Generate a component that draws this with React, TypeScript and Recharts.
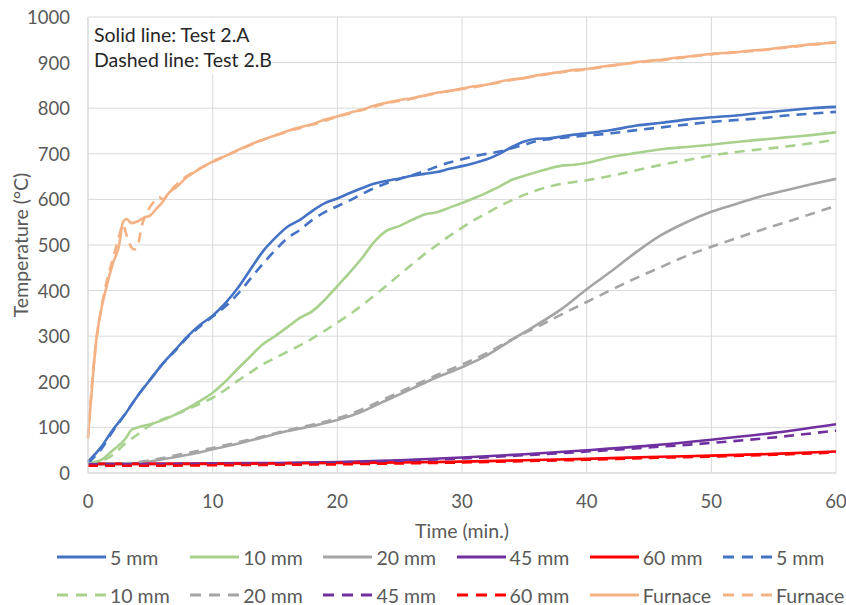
import { LineChart, Line, XAxis, YAxis, CartesianGrid } from 'recharts'

// [time (min), temperature (°C)]
const blueA = [[0,25],[1,55],[2,95],[3,130],[4,170],[5,205],[6,240],[7,270],[8,300],[9,325],[10,345],[11,372],[12,405],[13,445],[14,485],[15,515],[16,540],[17,555],[18,575],[19,592],[20,602],[21,614],[22,625],[23,635],[24,641],[25,646],[26,652],[27,656],[28,660],[29,667],[30,673],[31,680],[32,688],[33,700],[34,715],[35,727],[36,733],[37,734],[38,738],[39,742],[40,745],[42,752],[44,762],[46,768],[48,775],[50,780],[52,784],[54,790],[56,795],[58,800],[60,803]]
const greenA = [[0,22],[1,28],[2,50],[3,75],[3.5,95],[4,100],[5,107],[6,116],[7,128],[8,142],[9,158],[10,176],[11,200],[12,228],[13,255],[14,282],[15,300],[16,320],[17,340],[18,355],[19,380],[20,410],[21,440],[22,472],[23,508],[24,532],[25,542],[26,555],[27,567],[28,572],[29,582],[30,592],[31,603],[32,615],[33,628],[34,643],[35,652],[36,660],[37,668],[38,674],[39,676],[40,680],[42,693],[44,702],[46,710],[48,715],[50,720],[52,726],[54,731],[56,736],[58,741],[60,747]]
const grayA = [[0,20],[2,20],[4,22],[6,30],[8,40],[10,52],[12,64],[14,78],[16,92],[18,103],[20,116],[22,135],[24,160],[26,185],[28,210],[30,232],[32,258],[34,292],[36,325],[38,360],[40,403],[42,443],[44,485],[46,522],[48,550],[50,573],[52,590],[54,607],[56,620],[58,633],[60,645]]
const purpleA = [[0,20],[5,20],[10,21],[15,22],[20,24],[25,28],[30,34],[35,41],[40,50],[45,60],[50,73],[55,88],[60,107]]
const redA = [[0,20],[5,20],[10,20],[15,21],[20,22],[25,23],[30,25],[35,28],[40,31],[45,35],[50,38],[55,42],[60,47]]

const blueB = [[0,22],[1,50],[2,92],[3,130],[4,170],[5,205],[6,240],[7,268],[8,298],[9,322],[10,343],[11,365],[12,392],[13,425],[14,458],[15,488],[16,515],[17,533],[18,555],[19,572],[20,585],[21,598],[22,612],[23,625],[24,636],[25,645],[26,653],[27,662],[28,672],[29,681],[30,688],[31,695],[32,700],[33,705],[34,712],[35,720],[36,728],[37,732],[38,735],[40,740],[42,745],[44,752],[46,758],[48,764],[50,770],[52,774],[54,778],[56,784],[58,788],[60,792]]
const greenB = [[0,20],[1,25],[2,40],[3,65],[4,85],[5,105],[6,118],[7,128],[8,140],[9,152],[10,165],[11,182],[12,202],[13,220],[14,238],[15,252],[16,266],[17,280],[18,295],[19,312],[20,330],[21,348],[22,368],[23,390],[24,412],[25,435],[26,458],[27,480],[28,500],[29,520],[30,538],[31,555],[32,570],[33,585],[34,598],[35,610],[36,620],[37,628],[38,634],[40,642],[42,652],[44,664],[46,676],[48,686],[50,696],[52,704],[54,710],[56,716],[58,723],[60,731]]
const grayB = [[0,20],[2,20],[4,24],[6,33],[8,44],[10,55],[12,67],[14,80],[16,94],[18,106],[20,120],[22,140],[24,165],[26,190],[28,215],[30,238],[32,263],[34,293],[36,320],[38,348],[40,375],[42,402],[44,428],[46,452],[48,476],[50,496],[52,515],[54,533],[56,550],[58,568],[60,586]]
const purpleB = [[0,19],[5,19],[10,20],[15,21],[20,23],[25,27],[30,32],[35,39],[40,47],[45,56],[50,66],[55,78],[60,93]]
const redB = [[0,16],[5,16],[10,17],[15,18],[20,19],[25,21],[30,23],[35,26],[40,29],[45,33],[50,36],[55,40],[60,45]]

const furnaceA = [[0,80],[0.3,180],[0.7,300],[1,350],[1.5,410],[2,460],[2.5,500],[2.8,550],[3.1,557],[3.5,548],[4,552],[4.5,560],[5,565],[5.5,580],[6,595],[6.5,615],[7,625],[8,650],[9,668],[10,683],[11,695],[12,708],[13,720],[14,731],[15,740],[16,750],[17,758],[18,765],[19,775],[20,782],[21,790],[22,797],[23,806],[24,812],[25,818],[26,822],[27,828],[28,834],[29,838],[30,843],[31,848],[32,852],[33,858],[34,863],[35,866],[36,872],[37,876],[38,880],[39,884],[40,886],[41,890],[42,894],[43,897],[44,901],[45,904],[46,906],[47,910],[48,913],[49,916],[50,919],[51,921],[52,923],[53,926],[54,928],[55,931],[56,934],[57,937],[58,940],[59,942],[60,945]]
const furnaceB = [[0,75],[0.5,250],[1,350],[1.5,420],[2,470],[2.5,520],[2.8,545],[3,530],[3.3,505],[3.7,490],[4,500],[4.3,540],[4.8,575],[5.3,595],[5.7,605],[6,600],[6.5,615],[7,630],[8,652],[9,668],[10,682],[12,707],[14,730],[16,749],[18,764],[20,781],[22,796],[24,811],[26,821],[28,833],[30,842],[32,851],[34,862],[36,871],[38,879],[40,885],[42,893],[44,900],[46,905],[48,912],[50,918],[52,922],[54,927],[56,933],[58,939],[60,944]]

const xTicks = [0, 10, 20, 30, 40, 50, 60]
const yTicks = [0, 100, 200, 300, 400, 500, 600, 700, 800, 900, 1000]

const toRows = (pts: number[][]) => pts.map(([t, v]) => ({ t, v }))

const DASH = '10 7'
const series = [
  { name: '5 mm', data: blueA, color: '#4472C4', dashed: false },
  { name: '10 mm', data: greenA, color: '#A9D18E', dashed: false },
  { name: '20 mm', data: grayA, color: '#A5A5A5', dashed: false },
  { name: '45 mm', data: purpleA, color: '#7030A0', dashed: false },
  { name: '60 mm', data: redA, color: '#FF0000', dashed: false },
  { name: '5 mm', data: blueB, color: '#4472C4', dashed: true },
  { name: '10 mm', data: greenB, color: '#A9D18E', dashed: true },
  { name: '20 mm', data: grayB, color: '#A5A5A5', dashed: true },
  { name: '45 mm', data: purpleB, color: '#7030A0', dashed: true },
  { name: '60 mm', data: redB, color: '#FF0000', dashed: true },
  { name: 'Furnace', data: furnaceA, color: '#F4B183', dashed: false },
  { name: 'Furnace', data: furnaceB, color: '#F4B183', dashed: true },
]

const FONT = 'Lato, "Open Sans", sans-serif'
const TICK_COLOR = '#595959'
const TEXT_SIZE = 19.5

const XTick = ({ x, payload }: any) => (
  <text x={x} y={501} textAnchor="middle" dominantBaseline="central" fill={TICK_COLOR} fontSize={18.5} fontFamily={FONT}>
    {payload.value}
  </text>
)

const YTick = ({ y, payload }: any) => (
  <text x={70} y={y} textAnchor="end" dominantBaseline="central" fill={TICK_COLOR} fontSize={18.5} fontFamily={FONT}>
    {payload.value}
  </text>
)

export default function App() {
  return (
    <div style={{ position: 'absolute', left: 0, top: 0, width: 846, height: 605, background: '#fff', fontFamily: FONT }}>
      <LineChart width={846} height={605} margin={{ top: 17, right: 10, left: 0, bottom: 72 }}>
        <CartesianGrid stroke="#d9d9d9" strokeWidth={1} />
        <XAxis
          type="number"
          dataKey="t"
          domain={[0, 60]}
          ticks={xTicks}
          height={60}
          tickLine={false}
          axisLine={{ stroke: '#d9d9d9' }}
          tick={<XTick />}
          allowDuplicatedCategory={false}
          label={{
            content: () => (
              <text x={462} y={530} textAnchor="middle" dominantBaseline="central" fill={TICK_COLOR} fontSize={TEXT_SIZE} fontFamily={FONT}>
                Time (min.)
              </text>
            ),
          }}
        />
        <YAxis
          type="number"
          domain={[0, 1000]}
          ticks={yTicks}
          width={88}
          tickLine={false}
          axisLine={{ stroke: '#d9d9d9' }}
          tick={<YTick />}
          label={{
            content: () => (
              <text
                x={20}
                y={245}
                transform="rotate(-90 20 245)"
                textAnchor="middle"
                dominantBaseline="central"
                fill={TICK_COLOR}
                fontSize={TEXT_SIZE}
                fontFamily={FONT}
              >
                Temperature (°C)
              </text>
            ),
          }}
        />
        {series.map((s, i) => (
          <Line
            key={i}
            data={toRows(s.data)}
            dataKey="v"
            type="monotone"
            stroke={s.color}
            strokeWidth={2.6}
            strokeDasharray={s.dashed ? DASH : undefined}
            dot={false}
            activeDot={false}
            isAnimationActive={false}
          />
        ))}
      </LineChart>

      {/* note box, top left */}
      <div
        style={{
          position: 'absolute',
          left: 89,
          top: 18,
          width: 183,
          height: 56,
          background: '#fff',
          color: '#262626',
          fontSize: TEXT_SIZE,
          lineHeight: '25px',
          paddingLeft: 5,
          paddingTop: 4,
          boxSizing: 'border-box',
          whiteSpace: 'nowrap',
        }}
      >
        <div>Solid line: Test 2.A</div>
        <div>Dashed line: Test 2.B</div>
      </div>

      {/* legend */}
      {series.map((s, i) => {
        const row = Math.floor(i / 6)
        const col = i % 6
        return (
          <div
            key={i}
            style={{
              position: 'absolute',
              left: 57 + col * 133.2,
              top: 557 + row * 38 - 12,
              height: 24,
              display: 'flex',
              alignItems: 'center',
              color: TICK_COLOR,
              fontSize: TEXT_SIZE,
              whiteSpace: 'nowrap',
            }}
          >
            <svg width={49} height={6} style={{ marginRight: 4 }}>
              <line x1={0} y1={3} x2={49} y2={3} stroke={s.color} strokeWidth={3} strokeDasharray={s.dashed ? '11 8' : undefined} />
            </svg>
            <span>{s.name}</span>
          </div>
        )
      })}
    </div>
  )
}
